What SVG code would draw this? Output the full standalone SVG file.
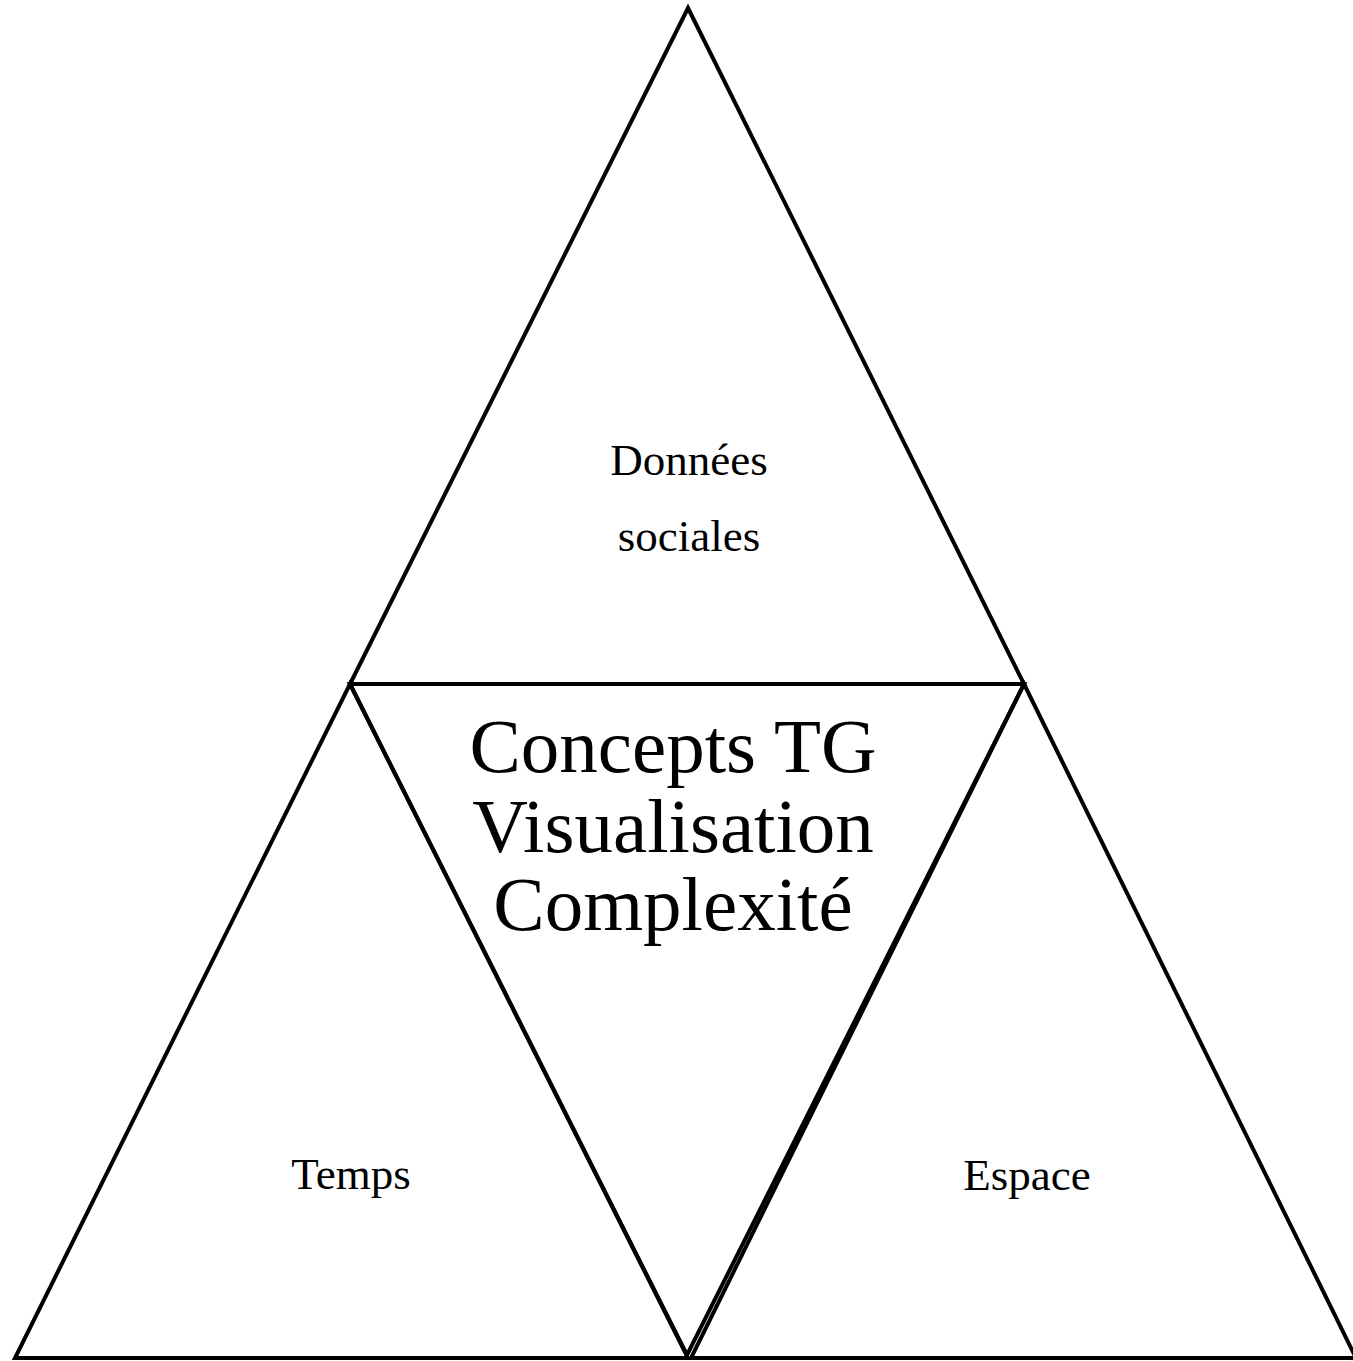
<svg xmlns="http://www.w3.org/2000/svg" width="1353" height="1361" viewBox="0 0 1353 1361">
  <style>
    .tri { fill: none; stroke: #000; stroke-width: 4; stroke-linejoin: miter; }
    .lbl { font-family: "Liberation Serif", "DejaVu Serif", serif; fill: #000; text-anchor: middle; }
    .small { font-size: 45px; }
    .big { font-size: 77px; }
  </style>
  <rect width="1353" height="1361" fill="#fff"/>
  <g id="connectors"/>
  <!-- top triangle -->
  <g id="node-donnees">
    <polygon class="tri" points="688,8 1024,684 350,684"/>
    <text class="lbl small" x="689" y="475">Données</text>
    <text class="lbl small" x="689" y="551">sociales</text>
  </g>
  <!-- bottom-left triangle -->
  <g id="node-temps">
    <polygon class="tri" points="350,684 688,1358 15,1358"/>
    <text class="lbl small" x="351" y="1189">Temps</text>
  </g>
  <!-- bottom-right triangle -->
  <g id="node-espace">
    <polygon class="tri" points="1024,684 1356,1358 691,1358"/>
    <text class="lbl small" x="1027" y="1190">Espace</text>
  </g>
  <!-- central inverted triangle -->
  <g id="node-centre">
    <polygon class="tri" points="350,684 1024,684 687,1355"/>
    <text class="lbl big" x="673" y="772">Concepts TG</text>
    <text class="lbl big" x="673" y="852">Visualisation</text>
    <text class="lbl big" x="673" y="930">Complexité</text>
  </g>
</svg>
